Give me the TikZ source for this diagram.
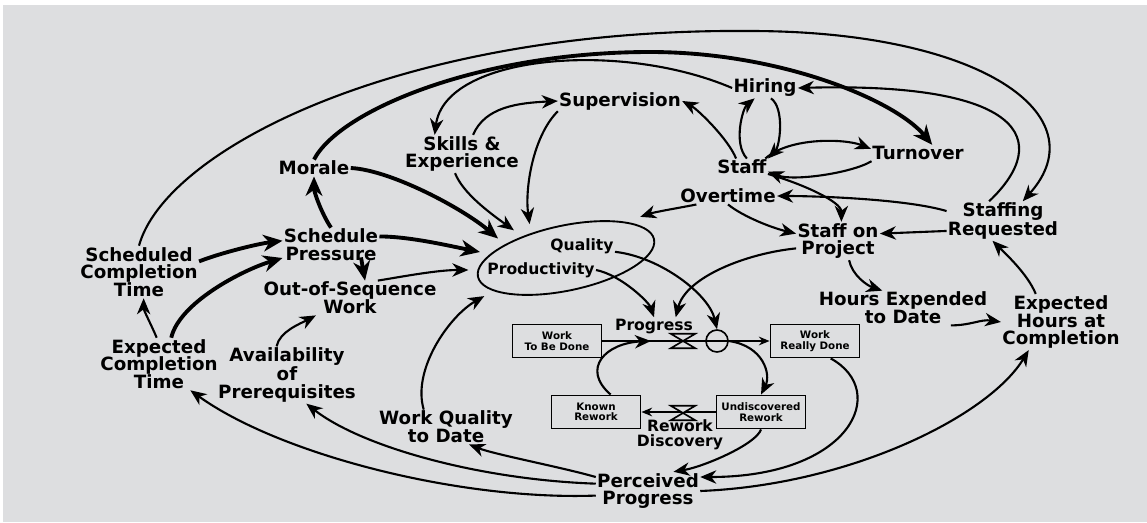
\documentclass[tikz,border=0pt]{standalone}
\usepackage{fontspec}
\setmainfont{DejaVu Sans}
\usepackage{xcolor}
\usepackage{tikz}
\usetikzlibrary{positioning,arrows.meta,shapes.geometric}
\definecolor{paper}{RGB}{221,222,224}

\begin{document}
\begin{tikzpicture}[
  x=0.03cm, y=-0.03cm,
  font=\bfseries\fontsize{15.6}{15.2}\selectfont,
  var/.style={align=center, inner sep=1pt},
  small/.style={var, font=\bfseries\fontsize{13.3}{13}\selectfont},
  stock/.style={draw, line width=1.6pt, minimum width=2.67cm, minimum height=0.99cm,
                align=center, inner sep=1pt, font=\bfseries\fontsize{8.8}{9}\selectfont},
  valve/.style={minimum width=0.72cm, minimum height=0.42cm, inner sep=0pt},
  conv/.style={draw, circle, line width=1.4pt, minimum size=0.66cm, inner sep=0pt},
  link/.style={-{Stealth[length=4.8mm,width=4mm,inset=1.5mm]}, line width=1.8pt},
  strong/.style={-{Stealth[length=5.8mm,width=5mm,inset=1.8mm]}, line width=3.3pt},
  pipe/.style={-{Stealth[length=3.2mm,width=2.6mm]}, line width=1.6pt},
]
\fill[white] (0,0) rectangle (1147,522);
\fill[paper] (3,5) rectangle (1147,522);
\useasboundingbox (0,0) rectangle (1147,522);

\node[var] (morale) at (314,168) {Morale};
\node[var] (skills) at (462,154) {Skills \&\\Experience};
\node[var] (superv) at (620,101) {Supervision};
\node[var] (hiring) at (765,88) {Hiring};
\node[var] (staff) at (742,167) {Staff};
\node[var] (turnover) at (918,153) {Turnover};
\node[var] (overtime) at (728,196) {Overtime};
\node[var] (onproject) at (838,241) {Staff on\\Project};
\node[var] (requested) at (1003,221) {Staffing\\Requested};
\node[var] (hours) at (903,308) {Hours Expended\\to Date};
\node[var] (exphours) at (1061,322) {Expected\\Hours at\\Completion};
\node[var] (pressure) at (331,245) {Schedule\\Pressure};
\node[var] (schedtime) at (139,272) {Scheduled\\Completion\\Time};
\node[var] (sequence) at (350,298) {Out-of-Sequence\\Work};
\node[var] (exptime) at (159,364) {Expected\\Completion\\Time};
\node[var] (prereq) at (287,375) {Availability\\of\\Prerequisites};
\node[var] (wquality) at (446,427) {Work Quality\\to Date};
\node[var] (perceived) at (648,491) {Perceived\\Progress};
\node[draw, ellipse, line width=1.6pt, minimum width=5.4cm, minimum height=1.95cm,
      outer sep=0.3cm, rotate=12] (qp) at (566,258) {};
\node[small] (quality) at (582,246) {Quality};
\node[small] (productivity) at (541,270) {Productivity};
\node[small] (proglabel) at (654,326) {Progress};
\node[stock] (tobedone) at (557,341) {Work\\To Be Done};
\node[stock] (reallydone) at (815,341) {Work\\Really Done};
\node[stock] (known) at (596,412) {Known\\Rework};
\node[stock] (undisc) at (761,412) {Undiscovered\\Rework};
\node[valve] (progress) at (683,341) {};
\node[conv] (rate) at (717,341) {};
\node[valve] (discovery) at (683,413) {};
\node[small] (disclabel) at (680,435) {Rework\\Discovery};

\draw[pipe] (tobedone.east) -- coordinate[pos=0.29] (inflow) (reallydone.west);
\draw[pipe] (undisc.west) -- (known.east);
\draw[line width=1.4pt, fill=paper] (progress.north west) -- (progress.north east)
  -- (progress.south west) -- (progress.south east) -- cycle;
\draw[line width=1.4pt, fill=paper] (discovery.north west) -- (discovery.north east)
  -- (discovery.south west) -- (discovery.south east) -- cycle;

\draw[link] (schedtime.north) .. controls (165,150) and (400,28) .. (750,31)
  .. controls (980,31) and (1100,115) .. (requested.45);
\draw[strong] (morale.north) .. controls (340,110) and (480,52) .. (650,52)
  .. controls (780,52) and (895,100) .. (turnover.30);
\draw[link] (requested.125) .. controls +(65,-62) and +(224,-6) .. (hiring.east);
\draw[link] (hiring.west) .. controls (620,40) and (445,55) .. (skills.145);
\draw[link] (skills.60) .. controls +(12,-28) and +(-40,2) .. (superv.west);
\draw[link] (superv.south west) .. controls +(-25,25) and +(-5,-35) .. (qp.125);
\draw[link] (skills.250) .. controls +(8,20) and +(-25,-18) .. (qp.140);
\draw[link] (staff.125) .. controls +(-8,-20) and +(15,8) .. (superv.east);
\draw[link] (staff.60) .. controls +(-14,-15) and +(-12,10) .. (hiring.225);
\draw[link] (hiring.-60) .. controls +(14,10) and +(12,-12) .. (staff.north east);
\draw[link] (staff.20) .. controls +(25,-22) and +(-25,-10) .. (turnover.175);
\draw[link] (turnover.190) .. controls +(-20,12) and +(25,10) .. (staff.-10);
\draw[link] (staff.-15) .. controls +(35,10) and +(0,-20) .. (onproject.80);
\draw[link] (requested.170) .. controls +(-40,-12) and +(40,0) .. (overtime.east);
\draw[link] (requested.190) -- (onproject.10);
\draw[link] (overtime.195) .. controls +(-15,3) and +(15,-5) .. (qp.17);
\draw[link] (overtime.south) .. controls +(15,12) and +(-25,-6) .. (onproject.170);
\draw[link] (onproject.190) .. controls +(-50,5) and +(10,-40) .. (proglabel.22);
\draw[link] (onproject.-60) .. controls +(3,15) and +(-15,-5) .. (hours.140);
\draw[link] (hours.-20) .. controls +(20,0) and +(-20,-3) .. (exphours.west);
\draw[link] (exphours.132) .. controls +(-8,-20) and +(12,12) .. (requested.242);
\draw[strong] (morale.east) .. controls +(40,2) and +(-35,-30) .. (qp.152);
\draw[strong] (pressure.10) .. controls +(30,0) and +(-30,-6) .. (qp.164);
\draw[strong] (pressure.north) .. controls +(-10,-15) and +(0,15) .. (morale.south);
\draw[strong] ([xshift=9mm,yshift=1.5mm]pressure.south) -- ([xshift=4.5mm]sequence.north);
\draw[link] (sequence.32) .. controls +(30,-5) and +(-30,0) .. (qp.175);
\draw[strong] (schedtime.10) .. controls +(20,-8) and +(-25,3) .. (pressure.175);
\draw[strong] (exptime.65) .. controls +(8,-35) and +(-40,12) .. (pressure.195);
\draw[link] (exptime.95) .. controls +(-5,-12) and +(0,12) .. (schedtime.-80);
\draw[link] (prereq.110) .. controls +(3,-15) and +(-15,8) .. (sequence.207);
\draw[link] (wquality.142) .. controls +(-12,-40) and +(-35,20) .. (qp.193);
\draw[link] (productivity.east) .. controls +(25,5) and +(-5,-15) .. (proglabel.north);
\draw[link] (quality.-10) .. controls +(45,5) and +(-8,-35) .. (rate.north);
\draw[link] (rate.east) .. controls +(35,5) and +(10,-20) .. (undisc.north);
\draw[link] (known.50) .. controls +(-30,-26) and +(-45,2) .. (inflow);
\draw[link] (undisc.south) .. controls +(-5,15) and +(30,-5) .. (perceived.37);
\draw[link] (reallydone.-48) .. controls +(60,33) and +(150,0) .. (perceived.15);
\draw[link] (perceived.east) .. controls +(150,-6) and +(-40,66) .. (exphours.221);
\draw[link] (perceived.165) .. controls +(-35,-10) and +(25,10) .. (wquality.-37);
\draw[link] (perceived.172) .. controls +(-117,-4) and +(55,43) .. (prereq.-56);
\draw[link] (perceived.185) .. controls +(-137,5) and +(89,64) .. (exptime.-40);
\end{tikzpicture}
\end{document}
